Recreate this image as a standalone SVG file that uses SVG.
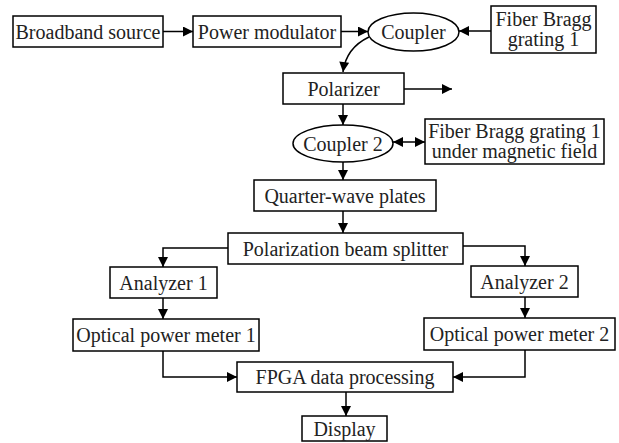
<svg xmlns="http://www.w3.org/2000/svg" width="619" height="443" viewBox="0 0 619 443">
<defs>
<style>
.box{fill:#fff;stroke:#000;stroke-width:1.5}
.t{font-family:"Liberation Serif","Times New Roman",serif;font-size:20px;fill:#222;text-anchor:middle}
.c{fill:none;stroke:#000;stroke-width:1.5}
</style>
<marker id="ah" viewBox="0 0 10 10" refX="10" refY="5" markerWidth="11" markerHeight="10" markerUnits="userSpaceOnUse" orient="auto-start-reverse">
<path d="M0,0 L10,5 L0,10 z" fill="#000"/>
</marker>
</defs>
<rect width="619" height="443" fill="#fff"/>
<g id="connectors">
<path class="c" d="M163 31.5 H193" marker-end="url(#ah)"/>
<path class="c" d="M341 31.5 H368" marker-end="url(#ah)"/>
<path class="c" d="M491 31 H459" marker-end="url(#ah)"/>
<path class="c" d="M369 37 Q346 48 343 72" marker-end="url(#ah)"/>
<path class="c" d="M404 89 H452" marker-end="url(#ah)"/>
<path class="c" d="M343 104 V125" marker-end="url(#ah)"/>
<path class="c" d="M393 142 H425" marker-start="url(#ah)" marker-end="url(#ah)"/>
<path class="c" d="M343 162 V180" marker-end="url(#ah)"/>
<path class="c" d="M343 211 V233" marker-end="url(#ah)"/>
<path class="c" d="M228 248 H163 V267" marker-end="url(#ah)"/>
<path class="c" d="M463 246 H525 V266" marker-end="url(#ah)"/>
<path class="c" d="M163 298 V319" marker-end="url(#ah)"/>
<path class="c" d="M525 297 V318" marker-end="url(#ah)"/>
<path class="c" d="M163 351 V377 H237" marker-end="url(#ah)"/>
<path class="c" d="M525 350 V377 H453" marker-end="url(#ah)"/>
<path class="c" d="M346 392 V416" marker-end="url(#ah)"/>
</g>
<g id="broadband-source"><rect class="box" x="13" y="16" width="150" height="31"/><text class="t" x="88" y="38.5">Broadband source</text></g>
<g id="power-modulator"><rect class="box" x="193" y="16" width="148" height="31"/><text class="t" x="267" y="38.5">Power modulator</text></g>
<g id="coupler"><ellipse class="box" cx="413.5" cy="32" rx="45.5" ry="19"/><text class="t" x="413.5" y="39">Coupler</text></g>
<g id="fbg1"><rect class="box" x="491" y="6" width="105" height="47"/><text class="t" x="543.5" y="26">Fiber Bragg</text><text class="t" x="543.5" y="46">grating 1</text></g>
<g id="polarizer"><rect class="box" x="283" y="73" width="121" height="31"/><text class="t" x="343.5" y="95.5">Polarizer</text></g>
<g id="coupler2"><ellipse class="box" cx="343" cy="143.5" rx="50" ry="18.5"/><text class="t" x="343" y="150.5">Coupler 2</text></g>
<g id="fbg2"><rect class="box" x="425" y="119" width="179" height="45"/><text class="t" x="514.5" y="138">Fiber Bragg grating 1</text><text class="t" x="514.5" y="158">under magnetic field</text></g>
<g id="quarter-wave"><rect class="box" x="254" y="180" width="182" height="31"/><text class="t" x="345" y="202.5">Quarter-wave plates</text></g>
<g id="pbs"><rect class="box" x="228" y="233" width="235" height="31"/><text class="t" x="345.5" y="255.5">Polarization beam splitter</text></g>
<g id="analyzer1"><rect class="box" x="110" y="267" width="107" height="31"/><text class="t" x="163.5" y="289.5">Analyzer 1</text></g>
<g id="analyzer2"><rect class="box" x="471" y="266" width="107" height="31"/><text class="t" x="524.5" y="288.5">Analyzer 2</text></g>
<g id="opm1"><rect class="box" x="73" y="319" width="186" height="32"/><text class="t" x="166" y="342">Optical power meter 1</text></g>
<g id="opm2"><rect class="box" x="424" y="318" width="191" height="32"/><text class="t" x="519.5" y="341">Optical power meter 2</text></g>
<g id="fpga"><rect class="box" x="237" y="362" width="216" height="30"/><text class="t" x="345" y="384">FPGA data processing</text></g>
<g id="display"><rect class="box" x="302" y="416" width="85" height="25"/><text class="t" x="344.5" y="436">Display</text></g>
</svg>
